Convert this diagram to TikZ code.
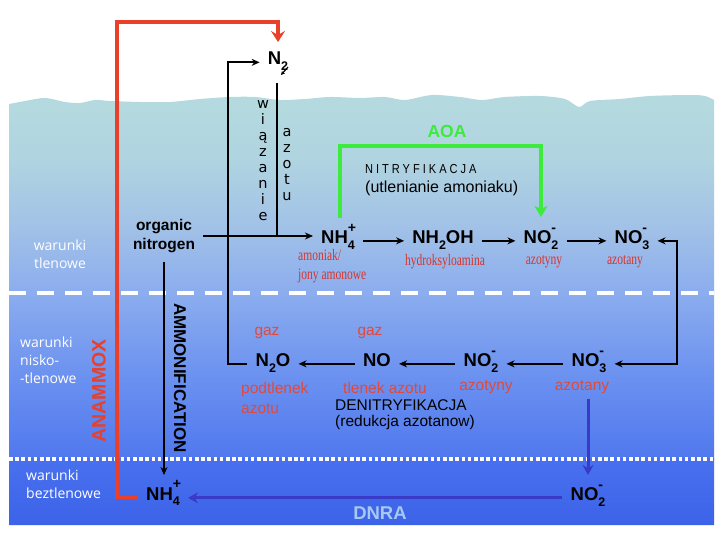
\documentclass[tikz,border=0pt]{standalone}
\usepackage{fontspec}
\setmainfont{Liberation Sans}
\newfontfamily\opensans{Open Sans}
\newfontfamily\serifc[FakeStretch=0.72]{Liberation Serif}
\newfontfamily\dejavu{DejaVu Sans}
\newfontfamily\spacedf[LetterSpace=23,FakeStretch=0.85]{Liberation Sans}
\usetikzlibrary{arrows.meta}

\definecolor{anamred}{HTML}{E8402A}
\definecolor{aoagreen}{HTML}{3CEB3C}
\definecolor{labred}{HTML}{E04A3C}
\definecolor{serred}{HTML}{D8342C}
\definecolor{dnrablue}{HTML}{3A3AC8}
\definecolor{dnratext}{HTML}{A8C8F2}
\definecolor{wa}{HTML}{B5DBDF}
\definecolor{wb}{HTML}{B0D4E0}
\definecolor{wc}{HTML}{A2C2E7}
\definecolor{wd}{HTML}{8CADEE}
\definecolor{we}{HTML}{6A90F0}
\definecolor{wf}{HTML}{5078EE}
\definecolor{wg}{HTML}{4870EE}
\definecolor{wh}{HTML}{3C63E8}

\newcommand{\csub}[1]{\raisebox{-0.3em}{\fontsize{12.5}{12}\selectfont #1}}
\newcommand{\cion}[2]{\makebox[0pt][l]{\raisebox{0.62em}{\fontsize{14}{12}\selectfont #2}}\csub{#1}}

\begin{document}
\begin{tikzpicture}[x=1pt,y=-1pt,
  chem/.style={font=\bfseries\fontsize{18.5}{20}\selectfont, inner xsep=8pt, inner ysep=0pt, anchor=base},
  blk/.style={line width=2pt, black},
  arr/.style={blk, -{Stealth[length=8pt,width=7pt]}},
  arrboth/.style={blk, {Stealth[length=8pt,width=7pt]}-{Stealth[length=8pt,width=7pt]}},
  anam/.style={anamred, line width=3.5pt, -{Stealth[length=11pt,width=14pt,inset=4pt]}},
  aoa/.style={aoagreen, line width=3.5pt, -{Stealth[length=11pt,width=13pt,inset=3pt]}},
  dnra/.style={dnrablue, line width=3pt, -{Stealth[length=10pt,width=11pt]}},
  whitelab/.style={white, font=\opensans\fontsize{14}{18}\selectfont, inner sep=0pt},
  redlab/.style={labred, font=\fontsize{15.5}{20}\selectfont, inner sep=0pt},
  serlab/.style={serred, font=\serifc\fontsize{16}{19}\selectfont, inner sep=0pt},
  stack/.style={font=\dejavu\fontsize{14.5}{16}\selectfont, align=center, inner sep=0pt},
  txt/.style={black, font=\fontsize{15.5}{16}\selectfont, inner sep=0pt}
]
\useasboundingbox (0,0) rectangle (723,534);
\fill[white] (0,0) rectangle (723,534);

% water body
\begin{scope}
\clip plot[smooth] coordinates {(9,104) (25,101) (45,98) (65,102) (80,103) (95,100) (110,101) (140,102) (170,102) (200,99) (230,97) (255,97) (280,100) (305,99) (330,97) (360,98) (385,97) (405,100) (432,95) (460,97) (482,100) (505,97) (540,96) (565,99) (579,107) (590,101) (620,99) (650,96) (690,95) (705,96) (714,100)}
  -- (714,525) -- (9,525) -- cycle;
\shade[top color=wa, bottom color=wb] (0,90) rectangle (723,160);
\shade[top color=wb, bottom color=wc] (0,159.5) rectangle (723,225);
\shade[top color=wc, bottom color=wd] (0,224.5) rectangle (723,292);
\shade[top color=wd, bottom color=we] (0,291.5) rectangle (723,380);
\shade[top color=we, bottom color=wf] (0,379.5) rectangle (723,459);
\shade[top color=wg, bottom color=wh] (0,458.5) rectangle (723,526);
\end{scope}

% zone boundaries
\draw[white, line width=4pt, dash pattern=on 17pt off 11pt] (9,293) -- (714,293);
\draw[white, line width=4pt, dash pattern=on 3.5pt off 2.7pt] (9,459) -- (714,459);

% zone labels
\node[whitelab, align=center] (zt) at (60,254) {warunki\\tlenowe};
\node[whitelab, align=left, anchor=west] (zn) at (20,360) {warunki\\nisko-\\-tlenowe};
\node[whitelab, align=left, anchor=west] (zb) at (26,484) {warunki\\beztlenowe};

% species
\node[chem] (n2) at (278,65) {N\csub{2}};
\node[chem] (nh4a) at (338,243.5) {NH\cion{4}{+}};
\node[chem] (nh2oh) at (443,243.5) {NH\csub{2}OH};
\node[chem] (no2a) at (541,243.5) {NO\cion{2}{-}};
\node[chem] (no3a) at (632,243.5) {NO\cion{3}{-}};
\node[chem] (n2o) at (273,366.5) {N\csub{2}O};
\node[chem] (no) at (377,366.5) {NO};
\node[chem] (no2b) at (481,366.5) {NO\cion{2}{-}};
\node[chem] (no3b) at (589,366.5) {NO\cion{3}{-}};
\node[chem] (nh4b) at (163,500) {NH\cion{4}{+}};
\node[chem] (no2c) at (588,500.5) {NO\cion{2}{-}};

\node[font=\bfseries\fontsize{15.5}{19}\selectfont, align=center, inner xsep=8pt, inner ysep=3pt] (org) at (164,236) {organic\\nitrogen};

% labels row 1
\node[serlab, align=left, anchor=west] (l-nh4) at (298,266) {amoniak/\\jony amonowe};
\node[serlab] (l-nh2oh) at (445,262) {hydroksyloamina};
\node[serlab] (l-no2a) at (544,262) {azotyny};
\node[serlab] (l-no3a) at (625,262) {azotany};

% labels row 2
\node[redlab] (g1) at (267,333) {gaz};
\node[redlab] (g2) at (370,333) {gaz};
\node[redlab, align=left, anchor=west] (l-n2o) at (241,398) {podtlenek\\azotu};
\node[redlab] (l-no) at (385,388) {tlenek azotu};
\node[redlab] (l-no2b) at (486,387) {azotyny};
\node[redlab] (l-no3b) at (582,387) {azotany};

\node[txt, align=left, anchor=west] (denit) at (335,415) {DENITRYFIKACJA\\(redukcja azotanow)};
\node[inner sep=0pt, anchor=west, font=\spacedf\fontsize{13}{13}\selectfont, black] (nitr) at (365,169) {NITRYFIKACJA};
\node[black, font=\fontsize{16}{16}\selectfont, inner sep=0pt, anchor=west] (utl) at (365,188) {(utlenianie amoniaku)};

\node[stack] (wz) at (263,161) {w\\i\\ą\\z\\a\\n\\i\\e};
\node[stack] (az) at (287,165) {a\\z\\o\\t\\u};

\node[aoagreen, font=\bfseries\fontsize{17.5}{18}\selectfont, inner sep=0pt] (aoalab) at (447,131) {AOA};
\node[dnratext, font=\bfseries\fontsize{18.5}{18}\selectfont, inner sep=0pt] (dnralab) at (380,513) {DNRA};
\node[anamred, font=\bfseries\fontsize{19.5}{20}\selectfont, inner sep=0pt, rotate=90] (anamlab) at (99,391) {ANAMMOX};
\node[black, font=\bfseries\fontsize{17}{18}\selectfont, inner sep=0pt, rotate=-90] (ammlab) at (180,378) {AMMONIFICATION};

% connector reference points
\coordinate (fixtop) at (277,83);
\coordinate (redtop) at (117,22);
\coordinate (greentop) at (340,146);
\coordinate (rightx) at (677,300);
\coordinate (sa) at (288,67);
\coordinate (sb) at (281,75);
\coordinate (n2top) at ([yshift=23pt]n2.base);
\coordinate (nh4atop) at ([yshift=25.5pt]nh4a.base);
\coordinate (no2atop) at ([yshift=26.5pt]no2a.base);
\coordinate (nh4btop) at ([yshift=25pt]nh4b.base);
\coordinate (no2ctop) at ([yshift=25.5pt]no2c.base);

\draw[arr] (org.east) -- (org.east -| nh4a.west);
\draw[blk] (fixtop) -- (fixtop |- org.east);
\draw[line width=1.2pt, -{Stealth[length=4pt,width=4pt]}] (sa) -- (sb);
\draw[arr] (nh4a.mid east) -- (nh2oh.mid west);
\draw[arr] (nh2oh.mid east) -- (no2a.mid west);
\draw[arr] (no2a.mid east) -- (no3a.mid west);
\draw[arrboth] (no3b.mid east) -- (no3b.mid east -| rightx) |- (no3a.mid east);
\draw[arr] (no3b.mid west) -- (no2b.mid east);
\draw[arr] (no2b.mid west) -- (no.mid east);
\draw[arr] (no.mid west) -- (n2o.mid east);
\draw[arr] (n2o.mid west) -- ++(-19,0) |- (n2.mid west);
\draw[arr, shorten <=6pt] (org.south) -- (org.south |- nh4btop);
\draw[anam] (nh4b.mid west) -| (redtop) -| (n2top);
\draw[aoa] (greentop |- nh4atop) -- (greentop) -| (no2atop);
\draw[dnra] (no2ctop |- l-no3b.south) ++(0,5) -- (no2ctop);
\draw[dnra] (no2c.mid west) -- (no2c.mid west -| nh4b.east);
\end{tikzpicture}
\end{document}
